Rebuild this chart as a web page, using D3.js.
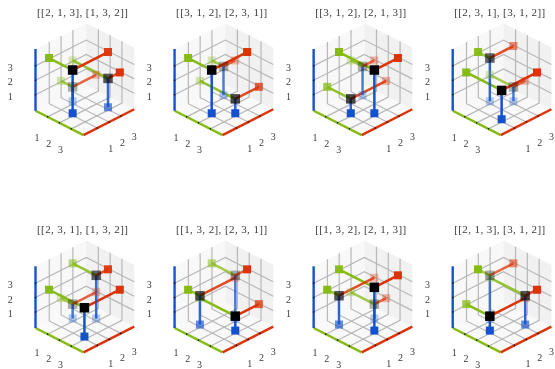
<!DOCTYPE html>
<html>
<head>
<meta charset="utf-8">
<script src="https://d3js.org/d3.v7.min.js"></script>
<style>
  html, body { margin: 0; padding: 0; background: #fff; }
  svg { display: block; will-change: opacity; }
  text { font-family: "Liberation Serif", serif; fill: #3a3a3a; }
</style>
</head>
<body>
<div id="chart"></div>
<script>
// first permutation of each panel (column axis), second permutation (height)
const rowPerms = [[2, 1, 3], [3, 1, 2], [3, 1, 2], [2, 3, 1], [2, 3, 1], [1, 3, 2], [1, 3, 2], [2, 1, 3]];
const heightPerms = [[1, 3, 2], [2, 3, 1], [2, 1, 3], [3, 1, 2], [1, 3, 2], [2, 3, 1], [2, 1, 3], [3, 1, 2]];
const tickValues = [1, 2, 3];

const width = 555;
const height = 369;
const panelStepX = 139.07;
const panelStepY = 217.3;

const green = "#85bb12";
const red = "#dd3308";
const blue = "#1352cc";
const gridColor = "#b8b8b8";

const svg = d3.select("#chart").append("svg").attr("width", width).attr("height", height);

// isometric box: the two floor directions and the height each get a scale
const aRun = d3.scaleLinear().domain([-0.03, 4.04]).range([0, 48]);
const aDrop = d3.scaleLinear().domain([-0.03, 4.04]).range([0, 24.4]);
const bRun = d3.scaleLinear().domain([-0.17, 4.13]).range([0, 50.7]);
const bRise = d3.scaleLinear().domain([-0.17, 4.13]).range([0, 25.8]);
const zRise = d3.scaleLinear().domain([-0.11, 4.17]).range([0, 61.7]);

const aMin = aRun.domain()[0], aMax = aRun.domain()[1];
const bMin = bRun.domain()[0], bMax = bRun.domain()[1];
const zMin = zRise.domain()[0], zMax = zRise.domain()[1];

function project(a, b, z) {
  return [35.5 + aRun(a) + bRun(b), 110.7 + aDrop(a) - bRise(b) - zRise(z)];
}

const path = d3.line();
const polygon = (pts) => path(pts) + "Z";

// depth towards the viewer, the same direction used for the fading of the markers
const depth = (p) => 0.612 * (p[0] - p[1]) + 0.5 * p[2];
function fade(points) {
  const scale = d3.scaleLinear().domain(d3.extent(points, depth)).range([0.3, 1]);
  return (p) => scale(depth(p));
}

function drawPanel(first, second, index) {
  const col = index % 4;
  const row = Math.floor(index / 4);
  const g = svg.append("g").attr("transform", `translate(${col * panelStepX},${row * panelStepY})`);

  // panes
  g.append("path")
    .attr("d", polygon([project(aMin, bMin, zMin), project(aMax, bMin, zMin), project(aMax, bMax, zMin), project(aMin, bMax, zMin)]))
    .attr("fill", "#f9f9f9");
  g.append("path")
    .attr("d", polygon([project(aMin, bMin, zMin), project(aMin, bMax, zMin), project(aMin, bMax, zMax), project(aMin, bMin, zMax)]))
    .attr("fill", "#f8f8f8");
  g.append("path")
    .attr("d", polygon([project(aMin, bMax, zMin), project(aMax, bMax, zMin), project(aMax, bMax, zMax), project(aMin, bMax, zMax)]))
    .attr("fill", "#f1f1f1");

  // grid
  const gridLines = [];
  tickValues.forEach((t) => {
    gridLines.push([project(t, bMin, zMin), project(t, bMax, zMin), project(t, bMax, zMax)]);
    gridLines.push([project(aMax, t, zMin), project(aMin, t, zMin), project(aMin, t, zMax)]);
    gridLines.push([project(aMin, bMin, t), project(aMin, bMax, t), project(aMax, bMax, t)]);
  });
  g.selectAll("path.grid")
    .data(gridLines)
    .join("path")
    .attr("class", "grid")
    .attr("d", (d) => path(d))
    .attr("fill", "none")
    .attr("stroke", gridColor)
    .attr("stroke-width", 1.2);

  // coloured axes
  const axes = [
    { color: green, pts: [project(aMin, bMin, zMin), project(aMax, bMin, zMin)] },
    { color: red, pts: [project(aMax, bMin, zMin), project(aMax, bMax, zMin)] },
    { color: blue, pts: [project(aMin, bMin, zMin), project(aMin, bMin, zMax)] },
  ];
  g.selectAll("path.axis")
    .data(axes)
    .join("path")
    .attr("class", "axis")
    .attr("d", (d) => path(d.pts))
    .attr("fill", "none")
    .attr("stroke", (d) => d.color)
    .attr("stroke-width", 2.4);

  // tick dots
  const tickDots = [];
  tickValues.forEach((t) => {
    tickDots.push(project(t, bMin, zMin), project(aMax, t, zMin), project(aMin, bMin, t));
  });
  g.selectAll("circle.tick")
    .data(tickDots)
    .join("circle")
    .attr("class", "tick")
    .attr("cx", (d) => d[0])
    .attr("cy", (d) => d[1])
    .attr("r", 0.8)
    .attr("fill", "#111");

  // tick labels, the bottom row sits a little tighter in the original
  const labelDrop = row === 0 ? 23.9 : 22;
  const labels = [];
  tickValues.forEach((t) => {
    const pa = project(t, bMin, zMin);
    const pb = project(aMax, t, zMin);
    const pz = project(aMin, bMin, t);
    labels.push({ t, x: pa[0] - 10.7, y: pa[1] + labelDrop });
    labels.push({ t, x: pb[0] + 13.4, y: pb[1] + labelDrop });
    labels.push({ t, x: pz[0] - 25.2, y: pz[1] + 5 });
  });
  g.selectAll("text.tick")
    .data(labels)
    .join("text")
    .attr("class", "tick")
    .attr("x", (d) => d.x)
    .attr("y", (d) => d.y)
    .attr("text-anchor", "middle")
    .style("font-size", "10px")
    .text((d) => d.t);

  // title
  g.append("text")
    .attr("x", 82.5)
    .attr("y", 15.5)
    .attr("text-anchor", "middle")
    .attr("textLength", 91)
    .attr("lengthAdjust", "spacing")
    .style("font-size", "11px")
    .text(`[[${first.join(", ")}], [${second.join(", ")}]]`);

  // points and their projections on the floor and the two back walls
  const points = first.map((b, i) => [i + 1, b, second[i]]);
  const data = g.append("g").attr("transform", "translate(-0.6,-1)");

  const floorPts = points.map((p) => [p[0], p[1], 0]);
  const leftPts = points.map((p) => [0, p[1], p[2]]);
  const rightPts = points.map((p) => [p[0], 4, p[2]]);

  // the lines towards the far points look slightly paler
  const lineFade = d3.scaleLinear().domain(d3.extent(points, depth)).range([0.75, 1]);
  const links = [
    { color: green, targets: leftPts },
    { color: red, targets: rightPts },
    { color: blue, targets: floorPts },
  ];
  links.forEach((set) => {
    data.append("g")
      .selectAll("path")
      .data(points)
      .join("path")
      .attr("d", (d, i) => path([project(...d), project(...set.targets[i])]))
      .attr("fill", "none")
      .attr("stroke", set.color)
      .attr("stroke-opacity", (d) => lineFade(depth(d)))
      .attr("stroke-width", 2.5);
  });

  const drawMarkers = (pts, color, size) => {
    const alpha = fade(pts);
    data.append("g")
      .selectAll("rect")
      .data(pts.slice().sort((p, q) => depth(p) - depth(q)))
      .join("rect")
      .attr("x", (d) => project(...d)[0] - size / 2)
      .attr("y", (d) => project(...d)[1] - size / 2)
      .attr("width", size)
      .attr("height", size)
      .attr("fill", color)
      .attr("fill-opacity", alpha);
  };
  drawMarkers(leftPts, green, 8);
  drawMarkers(rightPts, red, 8);
  drawMarkers(floorPts, blue, 8);
  drawMarkers(points, "#000", 9.5);
}

rowPerms.forEach((first, i) => drawPanel(first, heightPerms[i], i));
</script>
</body>
</html>
